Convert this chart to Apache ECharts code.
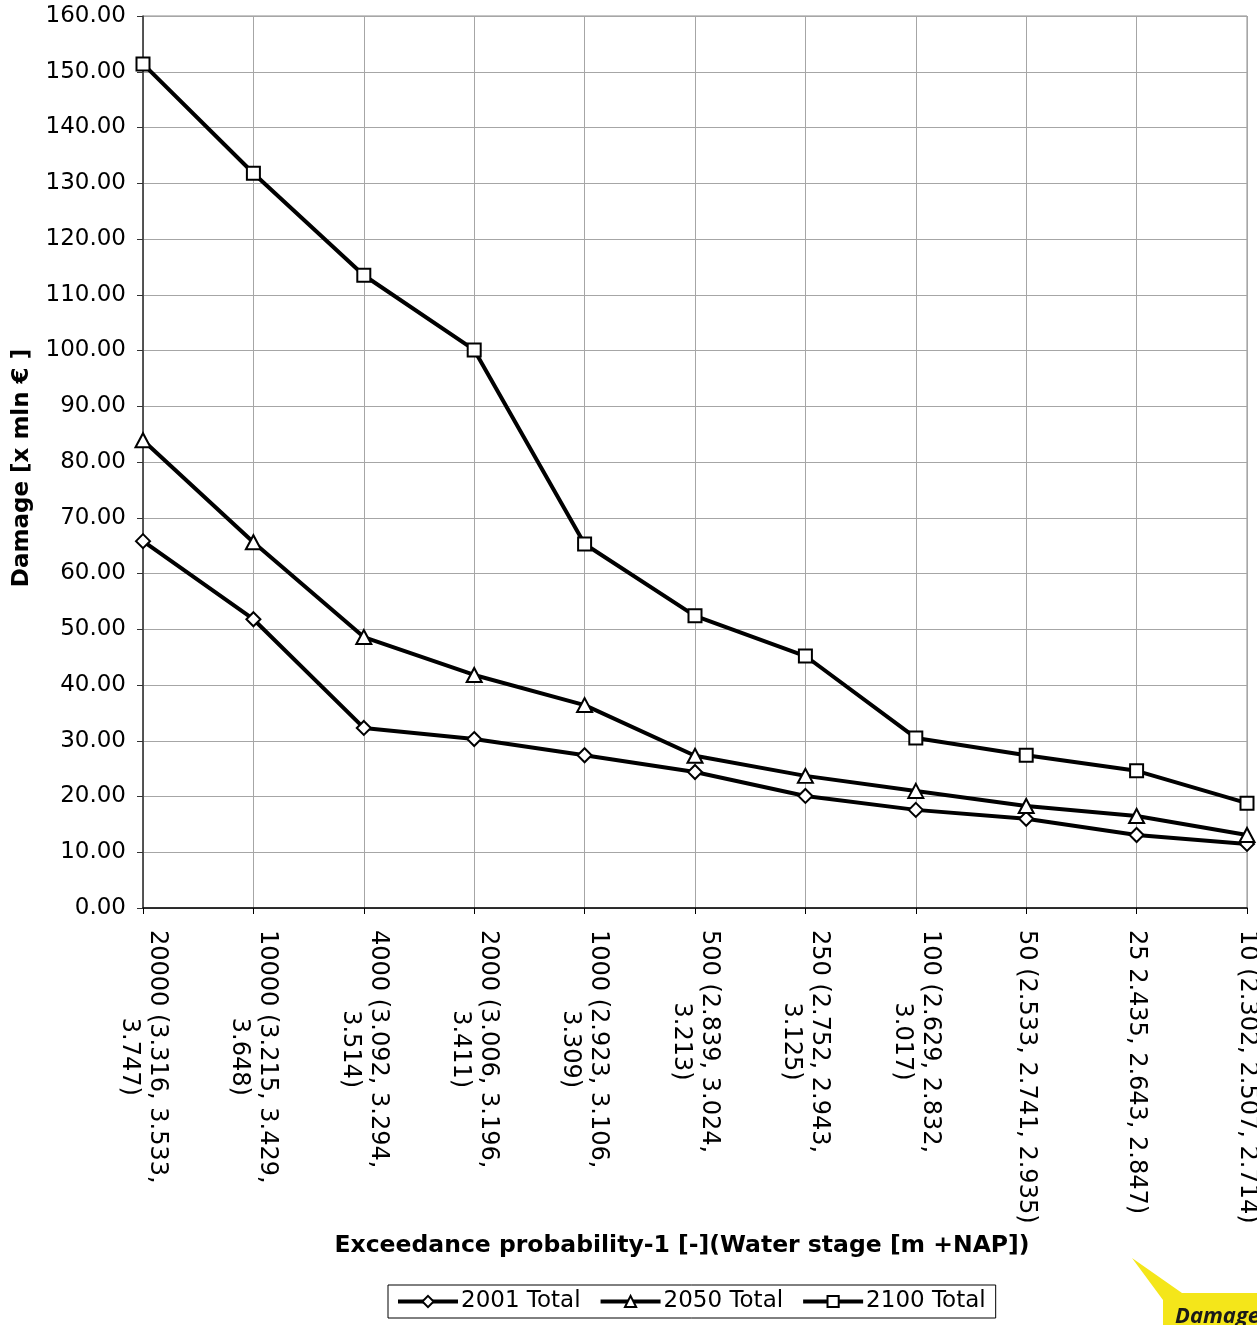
<!DOCTYPE html>
<html>
<head>
<meta charset="utf-8">
<script src="https://cdn.jsdelivr.net/npm/echarts@6/dist/echarts.min.js"></script>
<style>
html,body{margin:0;padding:0;background:#fff;}
#chart{width:1257px;height:1325px;}
</style>
</head>
<body>
<div id="chart"></div>
<script>
const categories = [
  "20000 (3.316, 3.533,\n3.747)",
  "10000 (3.215, 3.429,\n3.648)",
  "4000 (3.092, 3.294,\n3.514)",
  "2000 (3.006, 3.196,\n3.411)",
  "1000 (2.923, 3.106,\n3.309)",
  "500 (2.839, 3.024,\n3.213)",
  "250 (2.752, 2.943,\n3.125)",
  "100 (2.629, 2.832,\n3.017)",
  "50 (2.533, 2.741, 2.935)",
  "25 2.435, 2.643, 2.847)",
  "10 (2.302, 2.507, 2.714)"
];
const total2001 = [65.8, 51.8, 32.3, 30.3, 27.4, 24.4, 20.1, 17.6, 16.0, 13.1, 11.5];
const total2050 = [83.9, 65.6, 48.6, 41.8, 36.4, 27.3, 23.7, 21.0, 18.3, 16.5, 13.1];
const total2100 = [151.4, 131.8, 113.5, 100.1, 65.3, 52.4, 45.2, 30.5, 27.4, 24.6, 18.8];
const seriesNames = ["2001 Total", "2050 Total", "2100 Total"];
const yTicks = {min: 0, max: 160, step: 10};
const xTitle = "Exceedance probability-1 [-](Water stage [m +NAP])";
const yTitle = "Damage [x mln € ]";
const badgeText = "Damage";

const chart = echarts.init(document.getElementById('chart'), null, {renderer: 'canvas'});

function mkSeries(name, data, symbol, size) {
  return {
    name: name,
    type: 'line',
    data: data,
    symbol: symbol,
    symbolSize: size,
    showAllSymbol: true,
    lineStyle: {color: '#000', width: 4},
    itemStyle: {color: '#fff', borderColor: '#000', borderWidth: 2},
    emphasis: {disabled: true},
    animation: false,
    z: 3
  };
}

const option = {
  animation: false,
  backgroundColor: '#fff',
  grid: {
    left: 143, right: 10, top: 16, bottom: 417,
    containLabel: false,
    outerBoundsMode: 'none',
    show: true, borderColor: '#8c8c8c', borderWidth: 1, backgroundColor: 'transparent'
  },
  xAxis: {
    type: 'category',
    data: categories,
    boundaryGap: false,
    name: xTitle,
    nameLocation: 'middle',
    nameGap: 326,
    nameTextStyle: {fontFamily: 'DejaVu Sans', fontWeight: 'bold', fontSize: 23.5, color: '#000', padding: [0, 26, 0, 0]},
    axisLine: {lineStyle: {color: '#000', width: 1.5}},
    axisTick: {show: true, length: 6, alignWithLabel: true, lineStyle: {color: '#000'}},
    splitLine: {show: true, lineStyle: {color: '#a6a6a6', width: 1}},
    axisLabel: {
      rotate: -90,
      margin: 22,
      interval: 0,
      color: '#000',
      fontFamily: 'DejaVu Sans',
      fontSize: 24,
      formatter: function (v) {
        return v.split('\n').map(function (s) { return '{c|' + s + '}'; }).join('\n');
      },
      rich: {
        c: {align: 'center', fontFamily: 'DejaVu Sans', fontSize: 24, lineHeight: 28, color: '#000'}
      }
    }
  },
  yAxis: {
    type: 'value',
    min: yTicks.min,
    max: yTicks.max,
    interval: yTicks.step,
    name: yTitle,
    nameLocation: 'middle',
    nameGap: 109,
    nameTextStyle: {fontFamily: 'DejaVu Sans', fontWeight: 'bold', fontSize: 23, color: '#000', padding: [0, 12, 0, 0]},
    axisLine: {show: true, lineStyle: {color: '#333', width: 1.5}},
    axisTick: {show: true, length: 6, lineStyle: {color: '#333'}},
    splitLine: {show: true, lineStyle: {color: '#a6a6a6', width: 1}},
    axisLabel: {
      margin: 17,
      color: '#000',
      fontFamily: 'DejaVu Sans',
      fontSize: 23,
      formatter: function (v) { return v.toFixed(2); }
    }
  },
  legend: {
    data: seriesNames,
    left: 388,
    top: 1285,
    orient: 'horizontal',
    borderColor: '#000',
    borderWidth: 1,
    padding: [5, 10, 5, 8],
    itemGap: 18,
    itemWidth: 60,
    itemHeight: 14,
    lineStyle: {width: 4, color: '#000'},
    itemStyle: {color: '#fff', borderColor: '#000', borderWidth: 2},
    textStyle: {fontFamily: 'DejaVu Sans', fontSize: 23, color: '#000', padding: [0, 0, 0, -2]},
    selectedMode: false
  },
  series: [
    mkSeries(seriesNames[0], total2001, 'diamond', [14, 14]),
    mkSeries(seriesNames[1], total2050, 'triangle', [15, 14]),
    mkSeries(seriesNames[2], total2100, 'rect', [13, 13])
  ],
  graphic: [
    {
      type: 'polygon',
      shape: {points: [[1132, 1258], [1182, 1293], [1257, 1293], [1257, 1325], [1163, 1325], [1163, 1300]]},
      style: {fill: '#f4e61a'},
      z: 10
    },
    {
      type: 'text',
      left: 1175,
      top: 1306,
      style: {text: badgeText, font: 'italic bold 22px "Open Sans"', fill: '#1a1a1a'},
      z: 11
    }
  ]
};
chart.setOption(option);
</script>
</body>
</html>
